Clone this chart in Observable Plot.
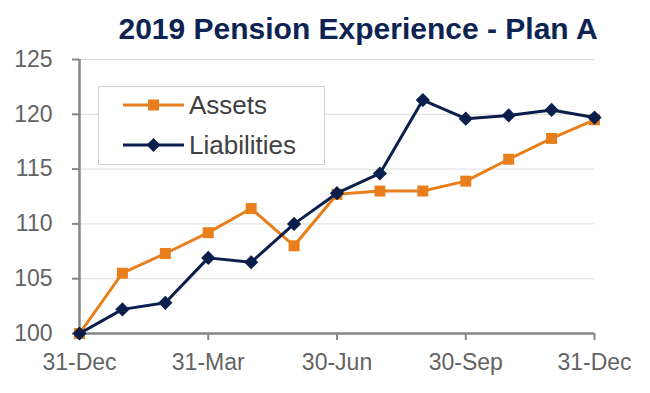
<!DOCTYPE html>
<html>
<head>
<meta charset="utf-8">
<script src="https://cdn.jsdelivr.net/npm/d3@7"></script>
<script src="https://cdn.jsdelivr.net/npm/@observablehq/plot@0.6"></script>
<style>
  html, body { margin: 0; padding: 0; background: #fff; }
  #chart { width: 650px; height: 393px; }
  svg { font-family: "Liberation Sans", Arial, sans-serif; }
</style>
</head>
<body>
<div id="chart"></div>
<script>
const title = "2019 Pension Experience - Plan A";
const months = ["31-Dec","31-Jan","28-Feb","31-Mar","30-Apr","31-May","30-Jun","31-Jul","31-Aug","30-Sep","31-Oct","30-Nov","31-Dec"];
const xTickLabels = ["31-Dec","31-Mar","30-Jun","30-Sep","31-Dec"];
const xTickIndex = [0, 3, 6, 9, 12];
const yTicks = [100, 105, 110, 115, 120, 125];
const assets = [100, 105.5, 107.3, 109.2, 111.4, 108.0, 112.7, 113.0, 113.0, 113.9, 115.9, 117.8, 119.5];
const liabilities = [100, 102.2, 102.8, 106.9, 106.5, 110.0, 112.8, 114.6, 121.3, 119.6, 119.9, 120.4, 119.7];
const seriesNames = ["Assets", "Liabilities"];
const colors = ["#e97f1c", "#0b1f4d"];

const assetRows = assets.map((v, i) => ({i, v, s: "Assets"}));
const liabRows = liabilities.map((v, i) => ({i, v, s: "Liabilities"}));

const plot = Plot.plot({
  width: 650,
  height: 393,
  marginLeft: 79,
  marginRight: 56,
  marginTop: 59,
  marginBottom: 60,
  style: {fontFamily: '"Liberation Sans", Arial, sans-serif', background: "#fff"},
  x: {type: "linear", domain: [0, 12], axis: null},
  y: {domain: [100, 125], axis: null},
  marks: [
    Plot.gridY(yTicks.filter(d => d > 100), {stroke: "#dcdcdc", strokeOpacity: 1, strokeWidth: 1}),
    Plot.axisY(yTicks, {tickSize: 7, tickPadding: 20, stroke: "#868686", strokeWidth: 2, fill: "#636363", fontSize: 23, label: null}),
    Plot.axisX(xTickIndex, {tickSize: 7, tickPadding: 13, stroke: "#868686", strokeWidth: 2, fill: "#636363", fontSize: 23, label: null,
      tickFormat: (d) => xTickLabels[xTickIndex.indexOf(d)]}),
    Plot.ruleY([100], {stroke: "#868686", strokeWidth: 2.5}),
    Plot.ruleX([0], {stroke: "#868686", strokeWidth: 2.5}),
    Plot.line(assetRows, {x: "i", y: "v", stroke: colors[0], strokeWidth: 3}),
    Plot.dot(assetRows, {x: "i", y: "v", symbol: "square", fill: colors[0], r: 6.2, stroke: "none"}),
    Plot.line(liabRows, {x: "i", y: "v", stroke: colors[1], strokeWidth: 3}),
    Plot.dot(liabRows, {x: "i", y: "v", symbol: "diamond2", fill: colors[1], r: 6.4, stroke: "none"})
  ]
});
document.getElementById("chart").appendChild(plot);

const svg = d3.select(plot);
// Title
svg.append("text")
  .attr("x", 358).attr("y", 39)
  .attr("text-anchor", "middle")
  .attr("font-size", 30).attr("font-weight", "bold")
  .attr("fill", "#0d2352")
  .text(title);

// Legend
const lg = svg.append("g");
lg.append("rect").attr("x", 98.5).attr("y", 86.5).attr("width", 226).attr("height", 78)
  .attr("fill", "#fff").attr("stroke", "#d0d0d0").attr("stroke-width", 1);
const legendSymbols = [d3.symbolSquare, d3.symbolDiamond2];
const legendY = [105, 145];
seriesNames.forEach((name, k) => {
  const y = legendY[k];
  lg.append("line").attr("x1", 123).attr("x2", 184).attr("y1", y).attr("y2", y)
    .attr("stroke", colors[k]).attr("stroke-width", 3);
  lg.append("path").attr("transform", `translate(153.5,${y})`)
    .attr("d", d3.symbol(legendSymbols[k], Math.PI * 6.2 * 6.2)())
    .attr("fill", colors[k]);
  lg.append("text").attr("x", 189).attr("y", y + 9)
    .attr("text-anchor", "start")
    .attr("font-size", 26).attr("fill", "#404040").text(name);
});
</script>
</body>
</html>
